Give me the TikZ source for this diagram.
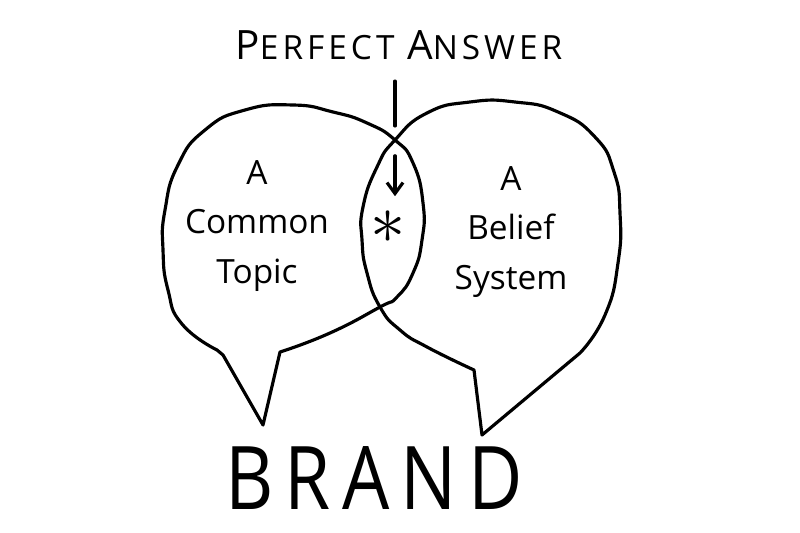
\documentclass[tikz,border=0pt]{standalone}
\usepackage{fontspec}
\setmainfont{Open Sans}
\newfontfamily\brandfont[LetterSpace=15]{Open Sans}
\newfontfamily\answerfont[LetterSpace=12]{Open Sans}
\usetikzlibrary{arrows.meta}

\begin{document}
\begin{tikzpicture}[x=0.02cm, y=-0.02cm,
    bubble/.style={draw=black, line width=1.8pt, line join=round, line cap=round},
    words/.style={align=center, font=\fontsize{19}{28}\selectfont, inner sep=0pt},
    link/.style={line width=1.8pt, line cap=round},
    arr/.style={-{Straight Barb[length=2.2mm, width=3.2mm]}, line width=1.8pt, line cap=round}
]
\useasboundingbox (0,0) rectangle (800,533);

% left speech bubble
\draw[bubble] plot[smooth, tension=0.9] coordinates {
    (280,352) (330,333) (380,307) (397,297) (413,273) (422,240) (423,203)
    (413,163) (395,140) (367,123) (333,112) (293,105) (245,110) (205,130)
    (178,165) (165,210) (163,250) (168,290) (182,324) (217,350)}
    -- (223,355) -- (263,425) -- cycle;

% right speech bubble
\draw[bubble] plot[smooth, tension=0.9] coordinates {
    (474,370) (427,347) (400,330) (380,307) (367,273) (362,240) (363,207)
    (377,167) (395,140) (427,113) (470,102) (515,102) (558,112) (595,137)
    (614,172) (620,213) (618,263) (605,315) (580,353)}
    -- (482,435) -- cycle;

\coordinate (cross) at (395,140);

\node[inner sep=0pt] (answer) at (399,45)
    {\answerfont\fontsize{19}{19}\selectfont {\fontsize{23}{23}\selectfont P}ERFECT {\fontsize{23}{23}\selectfont A}NSWER};
\node[inner sep=0pt] (star) at (388,227) {\scalebox{4}{$\ast$}};

\node[words] (topic)  at (257,226) {A\\Common\\Topic};
\node[words] (belief) at (511,232) {A\\Belief\\System};

\node[inner sep=0pt, xscale=0.85] (brand) at (374,478)
    {\brandfont\fontsize{50}{50}\selectfont BRAND};

\draw[link, shorten <=12pt, shorten >=8pt] (answer.south -| cross) -- (cross);
\draw[arr, shorten <=9pt, shorten >=8pt] (cross) -- (star.north -| cross);
\end{tikzpicture}
\end{document}
